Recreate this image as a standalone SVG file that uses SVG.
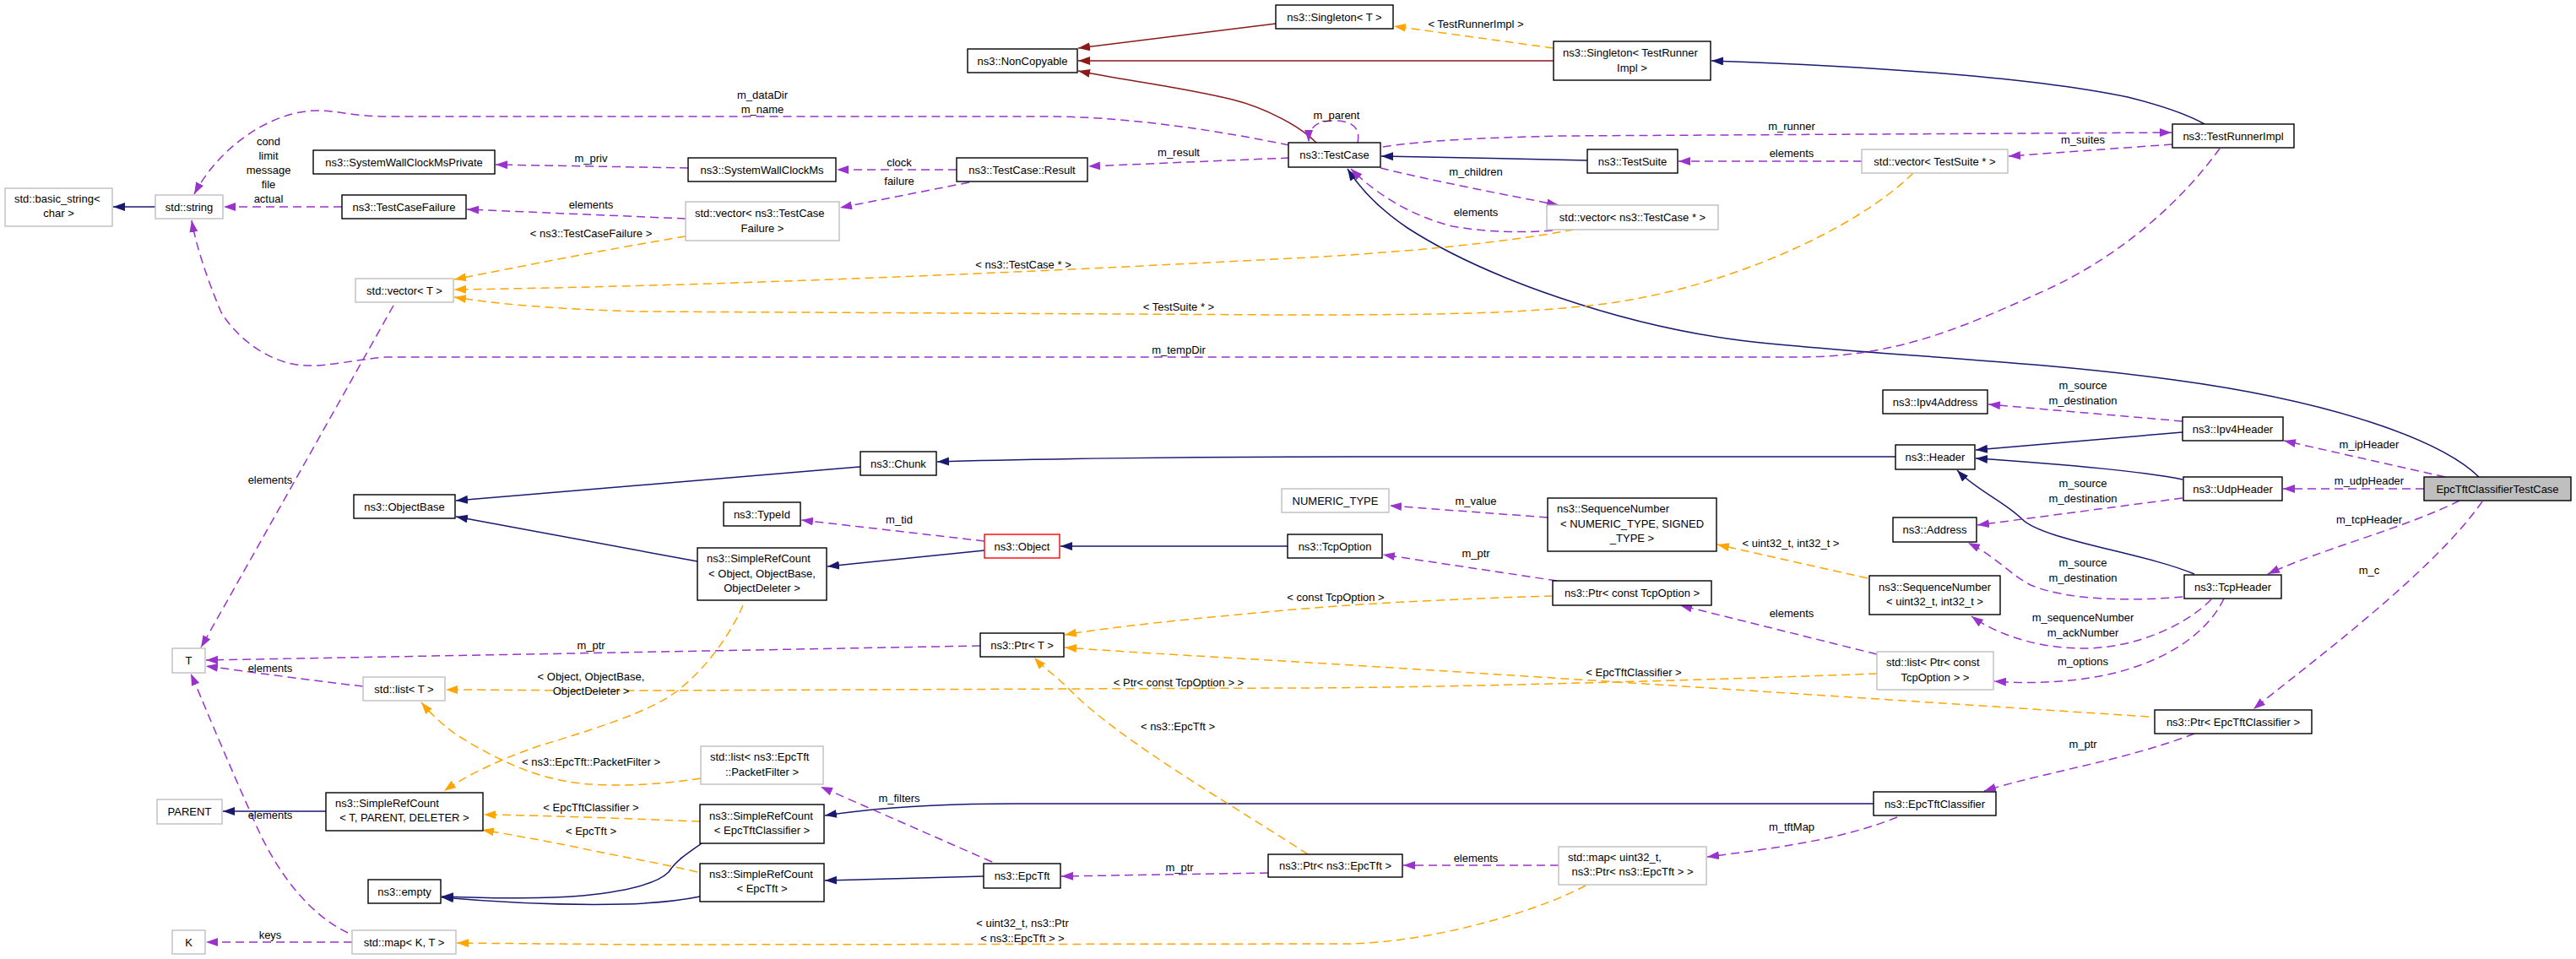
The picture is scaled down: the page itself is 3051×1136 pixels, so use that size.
<svg xmlns="http://www.w3.org/2000/svg" width="3051" height="1136" viewBox="0 0 3051 1136">
<style>
text{font-family:"Liberation Sans",Arial,sans-serif;font-size:13px;fill:#000}
.c{text-anchor:middle}
.node rect{fill:#fff;stroke:#000;stroke-width:1.4}
.gray rect{stroke:#bfbfbf}
.red rect{stroke:#ff0000}
.cur rect{fill:#bfbfbf}
.e{fill:none;stroke-width:1.5}
.nv{stroke:#191970;marker-end:url(#aN)}
.fb{stroke:#8b1a1a;marker-end:url(#aF)}
.pu{stroke:#9a32cd;stroke-dasharray:10,6;marker-end:url(#aP)}
.or{stroke:#ffa500;stroke-dasharray:10,6;marker-end:url(#aO)}
</style>
<defs>
<marker id="aN" markerUnits="userSpaceOnUse" markerWidth="16" markerHeight="12" refX="14" refY="5" orient="auto"><path d="M0,0L14,5L0,10z" fill="#191970"/></marker>
<marker id="aF" markerUnits="userSpaceOnUse" markerWidth="16" markerHeight="12" refX="14" refY="5" orient="auto"><path d="M0,0L14,5L0,10z" fill="#8b1a1a"/></marker>
<marker id="aP" markerUnits="userSpaceOnUse" markerWidth="16" markerHeight="12" refX="14" refY="5" orient="auto"><path d="M0,0L14,5L0,10z" fill="#9a32cd"/></marker>
<marker id="aO" markerUnits="userSpaceOnUse" markerWidth="16" markerHeight="12" refX="14" refY="5" orient="auto"><path d="M0,0L14,5L0,10z" fill="#ffa500"/></marker>
</defs>
<rect width="3051" height="1136" fill="#fff"/>
<g id="connectors">
<path class="e nv" d="M184,245L134,245"/>
<path class="e nv" d="M1880,190C1800,188 1700,186 1636,185"/>
<path class="e nv" d="M2936,565C2890,520 2760,475 2575,450C2390,425 2200,420 2060,403C1920,385 1760,330 1667,270C1630,245 1610,222 1596,200"/>
<path class="e nv" d="M2611,147C2590,135 2560,125 2520,115C2400,90 2200,78 2027,72"/>
<path class="e nv" d="M2245,541L1600,541C1400,541 1200,544 1110,547"/>
<path class="e nv" d="M1019,553L540,593"/>
<path class="e nv" d="M826,665L540,612"/>
<path class="e nv" d="M1166,652L980,671"/>
<path class="e nv" d="M1525,647L1256,647"/>
<path class="e nv" d="M2585,512L2340,533"/>
<path class="e nv" d="M2585,568C2550,560 2450,550 2340,543"/>
<path class="e nv" d="M2599,680C2540,655 2420,640 2395,615C2375,595 2340,580 2318,557"/>
<path class="e nv" d="M386,961L264,961"/>
<path class="e nv" d="M2219,952L1202,952C1100,952 1030,958 977,966"/>
<path class="e nv" d="M1165,1038L977,1043"/>
<path class="e nv" d="M831,999C815,1010 800,1020 792,1033C780,1045 750,1055 690,1061C630,1066 570,1063 523,1062"/>
<path class="e nv" d="M829,1062C800,1068 770,1070 740,1071C650,1073 580,1068 523,1063"/>
<path class="e fb" d="M1511,28L1277,57"/>
<path class="e fb" d="M1840,72L1277,72"/>
<path class="e fb" d="M1559,169C1540,150 1500,128 1460,118C1400,103 1330,95 1277,84"/>
<path class="e pu" d="M405,245L265,245"/>
<path class="e pu" d="M1527,172C1420,150 1320,138 1240,138L460,138C420,138 400,131 375,131C330,131 265,165 230,230"/>
<path class="e pu" d="M2629,176C2590,230 2520,300 2420,345C2330,385 2250,423 2130,423L457,423C420,426 390,434 363,433C320,432 280,400 262,370C245,330 232,290 227,261"/>
<path class="e pu" d="M815,199L587,195"/>
<path class="e pu" d="M812,259L553,248"/>
<path class="e pu" d="M1133,201L991,201"/>
<path class="e pu" d="M1148,216L995,246"/>
<path class="e pu" d="M1527,187L1289,197"/>
<path class="e pu" d="M1608,169C1612,150 1600,143 1580,143C1560,143 1550,150 1550,168"/>
<path class="e pu" d="M1638,174C1690,166 1760,163 1850,161L2572,157"/>
<path class="e pu" d="M2205,191L1988,191"/>
<path class="e pu" d="M2573,171L2379,185"/>
<path class="e pu" d="M1635,199C1700,215 1780,230 1846,243"/>
<path class="e pu" d="M1839,273C1800,276 1760,275 1720,268C1670,255 1630,230 1600,200"/>
<path class="e pu" d="M466,362L238,767"/>
<path class="e pu" d="M1166,641L949,616"/>
<path class="e pu" d="M1833,613L1646,599"/>
<path class="e pu" d="M1844,688L1638,657"/>
<path class="e pu" d="M2223,775L1990,717"/>
<path class="e pu" d="M2585,499L2355,479"/>
<path class="e pu" d="M2585,590L2342,622"/>
<path class="e pu" d="M2585,707C2530,712 2450,712 2405,693C2380,680 2365,660 2331,643"/>
<path class="e pu" d="M2619,710C2590,740 2530,768 2467,768C2420,768 2370,755 2335,730"/>
<path class="e pu" d="M2634,709C2610,760 2540,800 2440,807C2400,810 2380,808 2362,807"/>
<path class="e pu" d="M2896,565L2705,522"/>
<path class="e pu" d="M2871,579L2704,579"/>
<path class="e pu" d="M2913,593C2850,625 2750,650 2686,680"/>
<path class="e pu" d="M2940,594C2880,680 2730,790 2669,840"/>
<path class="e pu" d="M2599,869C2520,900 2420,915 2350,937"/>
<path class="e pu" d="M1161,765L244,782"/>
<path class="e pu" d="M430,813C360,805 290,795 244,789"/>
<path class="e pu" d="M1175,1021L972,932"/>
<path class="e pu" d="M1502,1034L1257,1038"/>
<path class="e pu" d="M1846,1025L1662,1025"/>
<path class="e pu" d="M2247,968C2180,995 2100,1005 2022,1015"/>
<path class="e pu" d="M412,1105C370,1085 330,1040 300,970C260,880 240,830 226,798"/>
<path class="e pu" d="M417,1116L244,1116"/>
<path class="e or" d="M1840,57L1651,31"/>
<path class="e or" d="M812,280C720,295 620,315 538,331"/>
<path class="e or" d="M1864,272C1780,288 1650,300 1530,306C1300,318 900,338 538,343"/>
<path class="e or" d="M2266,205C2200,270 2050,340 1900,360C1800,372 1700,373 1520,373L760,369C650,366 590,360 538,352"/>
<path class="e or" d="M1839,706C1700,710 1600,716 1520,723C1420,732 1320,742 1261,752"/>
<path class="e or" d="M2545,849C2300,833 1800,800 1520,783C1400,776 1330,772 1261,767"/>
<path class="e or" d="M2223,798C2000,806 1700,815 1520,815L760,818C650,818 580,817 528,817"/>
<path class="e or" d="M1549,1012C1470,960 1330,880 1270,820C1250,800 1235,790 1225,779"/>
<path class="e or" d="M830,922C780,930 730,932 688,928C630,922 580,895 540,870C520,855 510,845 499,832"/>
<path class="e or" d="M880,717C868,745 840,790 800,820C770,843 700,865 640,883C590,900 550,920 526,937"/>
<path class="e or" d="M829,973C750,970 650,966 573,965"/>
<path class="e or" d="M826,1033C780,1022 720,1012 680,1003C630,993 600,988 571,983"/>
<path class="e or" d="M2212,685L2034,645"/>
<path class="e or" d="M1878,1049C1820,1080 1700,1115 1600,1118L760,1119L541,1117"/>
<g class="c">
<text x="318" y="171.5">cond</text>
<text x="318" y="188.5">limit</text>
<text x="318" y="205.5">message</text>
<text x="318" y="222.5">file</text>
<text x="318" y="239.5">actual</text>
<text x="700" y="191.5">m_priv</text>
<text x="700" y="246.5">elements</text>
<text x="700" y="280.5">&lt; ns3::TestCaseFailure &gt;</text>
<text x="903" y="116.5">m_dataDir</text>
<text x="903" y="133.5">m_name</text>
<text x="1065" y="196.5">clock</text>
<text x="1065" y="218.5">failure</text>
<text x="1396" y="184.5">m_result</text>
<text x="1212" y="317.5">&lt; ns3::TestCase * &gt;</text>
<text x="1396" y="367.5">&lt; TestSuite * &gt;</text>
<text x="1748" y="32.5">&lt; TestRunnerImpl &gt;</text>
<text x="1583" y="140.5">m_parent</text>
<text x="2122" y="153.5">m_runner</text>
<text x="2122" y="185.5">elements</text>
<text x="1748" y="207.5">m_children</text>
<text x="1748" y="255.5">elements</text>
<text x="2467" y="169.5">m_suites</text>
<text x="1396" y="418.5">m_tempDir</text>
<text x="320" y="572.5">elements</text>
<text x="1065" y="619.5">m_tid</text>
<text x="1748" y="597.5">m_value</text>
<text x="1748" y="659.5">m_ptr</text>
<text x="1582" y="711.5">&lt; const TcpOption &gt;</text>
<text x="2121" y="647.5">&lt; uint32_t, int32_t &gt;</text>
<text x="2122" y="731">elements</text>
<text x="2467" y="461">m_source</text>
<text x="2467" y="479">m_destination</text>
<text x="2806" y="531">m_ipHeader</text>
<text x="2467" y="577">m_source</text>
<text x="2467" y="595">m_destination</text>
<text x="2806" y="573.5">m_udpHeader</text>
<text x="2806" y="619.5">m_tcpHeader</text>
<text x="2467" y="671">m_source</text>
<text x="2467" y="688.5">m_destination</text>
<text x="2806" y="679.5">m_c</text>
<text x="2467" y="736">m_sequenceNumber</text>
<text x="2467" y="753.5">m_ackNumber</text>
<text x="2467" y="787.5">m_options</text>
<text x="2467" y="885.5">m_ptr</text>
<text x="700" y="768.5">m_ptr</text>
<text x="320" y="795.5">elements</text>
<text x="700" y="805.5">&lt; Object, ObjectBase,</text>
<text x="700" y="822.5">ObjectDeleter &gt;</text>
<text x="1396" y="812.5">&lt; Ptr&lt; const TcpOption &gt; &gt;</text>
<text x="1935" y="801">&lt; EpcTftClassifier &gt;</text>
<text x="700" y="907">&lt; ns3::EpcTft::PacketFilter &gt;</text>
<text x="1395" y="864.5">&lt; ns3::EpcTft &gt;</text>
<text x="1065" y="949.5">m_filters</text>
<text x="320" y="969.5">elements</text>
<text x="700" y="960.5">&lt; EpcTftClassifier &gt;</text>
<text x="700" y="988.5">&lt; EpcTft &gt;</text>
<text x="1397" y="1031.5">m_ptr</text>
<text x="1748" y="1020.5">elements</text>
<text x="2122" y="983.5">m_tftMap</text>
<text x="320" y="1111.5">keys</text>
<text x="1211" y="1097.5">&lt; uint32_t, ns3::Ptr</text>
<text x="1211" y="1115.5">&lt; ns3::EpcTft &gt; &gt;</text>
</g>
</g>
<g id="n_basic_string" class="node gray"><rect x="6" y="223" width="127" height="45"/><text x="17" y="240">std::basic_string&lt;</text><text x="69.5" y="257" class="c">char &gt;</text></g>
<g id="n_std_string" class="node gray"><rect x="184" y="231" width="80" height="28"/><text x="224" y="249.5" class="c">std::string</text></g>
<g id="n_SystemWallClockMsPrivate" class="node"><rect x="371" y="178" width="215" height="28"/><text x="478.5" y="196.5" class="c">ns3::SystemWallClockMsPrivate</text></g>
<g id="n_TestCaseFailure" class="node"><rect x="405" y="231" width="147" height="28"/><text x="478.5" y="249.5" class="c">ns3::TestCaseFailure</text></g>
<g id="n_vector_T" class="node gray"><rect x="421" y="330" width="116" height="28"/><text x="479" y="348.5" class="c">std::vector&lt; T &gt;</text></g>
<g id="n_NonCopyable" class="node"><rect x="1146" y="58" width="130" height="28"/><text x="1211" y="76.5" class="c">ns3::NonCopyable</text></g>
<g id="n_SystemWallClockMs" class="node"><rect x="815" y="187" width="175" height="28"/><text x="902.5" y="205.5" class="c">ns3::SystemWallClockMs</text></g>
<g id="n_TestCase_Result" class="node"><rect x="1133" y="187" width="155" height="28"/><text x="1210.5" y="205.5" class="c">ns3::TestCase::Result</text></g>
<g id="n_vector_TestCaseFailure" class="node gray"><rect x="812" y="239" width="182" height="46"/><text x="823" y="257">std::vector&lt; ns3::TestCase</text><text x="903" y="275" class="c">Failure &gt;</text></g>
<g id="n_Singleton_T" class="node"><rect x="1511" y="6" width="139" height="28"/><text x="1580.5" y="24.5" class="c">ns3::Singleton&lt; T &gt;</text></g>
<g id="n_Singleton_TestRunnerImpl" class="node"><rect x="1840" y="49" width="186" height="46"/><text x="1851" y="67">ns3::Singleton&lt; TestRunner</text><text x="1933" y="84.5" class="c">Impl &gt;</text></g>
<g id="n_TestCase" class="node"><rect x="1526" y="169" width="109" height="29"/><text x="1580.5" y="188" class="c">ns3::TestCase</text></g>
<g id="n_TestSuite" class="node"><rect x="1880" y="177" width="107" height="28"/><text x="1933.5" y="195.5" class="c">ns3::TestSuite</text></g>
<g id="n_vector_TestSuite" class="node gray"><rect x="2205" y="177" width="173" height="28"/><text x="2291.5" y="195.5" class="c">std::vector&lt; TestSuite * &gt;</text></g>
<g id="n_vector_TestCase" class="node gray"><rect x="1832" y="243" width="203" height="29"/><text x="1933.5" y="262" class="c">std::vector&lt; ns3::TestCase * &gt;</text></g>
<g id="n_TestRunnerImpl" class="node"><rect x="2573" y="147" width="144" height="28"/><text x="2645" y="165.5" class="c">ns3::TestRunnerImpl</text></g>
<g id="n_ObjectBase" class="node"><rect x="419" y="586" width="120" height="28"/><text x="479" y="604.5" class="c">ns3::ObjectBase</text></g>
<g id="n_Chunk" class="node"><rect x="1019" y="535" width="90" height="28"/><text x="1064" y="553.5" class="c">ns3::Chunk</text></g>
<g id="n_TypeId" class="node"><rect x="857" y="595" width="91" height="28"/><text x="902.5" y="613.5" class="c">ns3::TypeId</text></g>
<g id="n_Object" class="node red"><rect x="1166" y="633" width="89" height="28"/><text x="1210.5" y="651.5" class="c">ns3::Object</text></g>
<g id="n_SimpleRefCount_Object" class="node"><rect x="826" y="649" width="153" height="62"/><text x="837" y="666">ns3::SimpleRefCount</text><text x="902.5" y="683.5" class="c">&lt; Object, ObjectBase,</text><text x="902.5" y="700.5" class="c">ObjectDeleter &gt;</text></g>
<g id="n_Ptr_T" class="node"><rect x="1161" y="750" width="99" height="28"/><text x="1210.5" y="768.5" class="c">ns3::Ptr&lt; T &gt;</text></g>
<g id="n_NUMERIC_TYPE" class="node gray"><rect x="1518" y="579" width="127" height="28"/><text x="1581.5" y="597.5" class="c">NUMERIC_TYPE</text></g>
<g id="n_SequenceNumber_NT" class="node"><rect x="1833" y="590" width="200" height="63"/><text x="1844" y="607">ns3::SequenceNumber</text><text x="1933" y="624.5" class="c">&lt; NUMERIC_TYPE, SIGNED</text><text x="1933" y="642" class="c">_TYPE &gt;</text></g>
<g id="n_TcpOption" class="node"><rect x="1525" y="633" width="112" height="28"/><text x="1581" y="651.5" class="c">ns3::TcpOption</text></g>
<g id="n_Ptr_const_TcpOption" class="node"><rect x="1839" y="688" width="188" height="29"/><text x="1933" y="707" class="c">ns3::Ptr&lt; const TcpOption &gt;</text></g>
<g id="n_Ipv4Address" class="node"><rect x="2230" y="462" width="124" height="28"/><text x="2292" y="480.5" class="c">ns3::Ipv4Address</text></g>
<g id="n_Header" class="node"><rect x="2245" y="527" width="94" height="29"/><text x="2292" y="546" class="c">ns3::Header</text></g>
<g id="n_Address" class="node"><rect x="2242" y="613" width="99" height="29"/><text x="2291.5" y="632" class="c">ns3::Address</text></g>
<g id="n_SequenceNumber_u32" class="node"><rect x="2214" y="682" width="155" height="46"/><text x="2225" y="699.5">ns3::SequenceNumber</text><text x="2291.5" y="717" class="c">&lt; uint32_t, int32_t &gt;</text></g>
<g id="n_Ipv4Header" class="node"><rect x="2585" y="494" width="119" height="28"/><text x="2644.5" y="512.5" class="c">ns3::Ipv4Header</text></g>
<g id="n_UdpHeader" class="node"><rect x="2586" y="565" width="117" height="28"/><text x="2644.5" y="583.5" class="c">ns3::UdpHeader</text></g>
<g id="n_TcpHeader" class="node"><rect x="2587" y="681" width="115" height="28"/><text x="2644.5" y="699.5" class="c">ns3::TcpHeader</text></g>
<g id="n_EpcTftClassifierTestCase" class="node cur"><rect x="2871" y="565" width="174" height="28"/><text x="2958" y="583.5" class="c">EpcTftClassifierTestCase</text></g>
<g id="n_Ptr_EpcTftClassifier" class="node"><rect x="2552" y="841" width="186" height="28"/><text x="2645" y="859.5" class="c">ns3::Ptr&lt; EpcTftClassifier &gt;</text></g>
<g id="n_list_Ptr_const_TcpOption" class="node gray"><rect x="2223" y="772" width="138" height="45"/><text x="2234" y="789">std::list&lt; Ptr&lt; const</text><text x="2292" y="807" class="c">TcpOption &gt; &gt;</text></g>
<g id="n_EpcTftClassifier" class="node"><rect x="2219" y="938" width="145" height="28"/><text x="2291.5" y="956.5" class="c">ns3::EpcTftClassifier</text></g>
<g id="n_T" class="node gray"><rect x="204" y="768" width="39" height="29"/><text x="223.5" y="787" class="c">T</text></g>
<g id="n_list_T" class="node gray"><rect x="430" y="802" width="97" height="28"/><text x="478.5" y="820.5" class="c">std::list&lt; T &gt;</text></g>
<g id="n_PARENT" class="node gray"><rect x="186" y="947" width="77" height="29"/><text x="224.5" y="966" class="c">PARENT</text></g>
<g id="n_SimpleRefCount_TPD" class="node"><rect x="386" y="939" width="186" height="45"/><text x="397" y="956">ns3::SimpleRefCount</text><text x="479" y="973" class="c">&lt; T, PARENT, DELETER &gt;</text></g>
<g id="n_empty" class="node"><rect x="436" y="1042" width="86" height="28"/><text x="479" y="1060.5" class="c">ns3::empty</text></g>
<g id="n_K" class="node gray"><rect x="204" y="1102" width="39" height="28"/><text x="223.5" y="1120.5" class="c">K</text></g>
<g id="n_map_KT" class="node gray"><rect x="417" y="1102" width="123" height="28"/><text x="478.5" y="1120.5" class="c">std::map&lt; K, T &gt;</text></g>
<g id="n_list_PacketFilter" class="node gray"><rect x="830" y="884" width="145" height="45"/><text x="841" y="901">std::list&lt; ns3::EpcTft</text><text x="902.5" y="919" class="c">::PacketFilter &gt;</text></g>
<g id="n_SimpleRefCount_EpcTftClassifier" class="node"><rect x="829" y="953" width="147" height="46"/><text x="840" y="971">ns3::SimpleRefCount</text><text x="902.5" y="988" class="c">&lt; EpcTftClassifier &gt;</text></g>
<g id="n_SimpleRefCount_EpcTft" class="node"><rect x="829" y="1023" width="147" height="45"/><text x="840" y="1040">ns3::SimpleRefCount</text><text x="902.5" y="1057" class="c">&lt; EpcTft &gt;</text></g>
<g id="n_EpcTft" class="node"><rect x="1165" y="1023" width="91" height="29"/><text x="1210.5" y="1042" class="c">ns3::EpcTft</text></g>
<g id="n_Ptr_EpcTft" class="node"><rect x="1502" y="1012" width="159" height="27"/><text x="1581.5" y="1030" class="c">ns3::Ptr&lt; ns3::EpcTft &gt;</text></g>
<g id="n_map_u32" class="node gray"><rect x="1846" y="1003" width="175" height="45"/><text x="1857" y="1020">std::map&lt; uint32_t,</text><text x="1933.5" y="1037" class="c">ns3::Ptr&lt; ns3::EpcTft &gt; &gt;</text></g>
</svg>
